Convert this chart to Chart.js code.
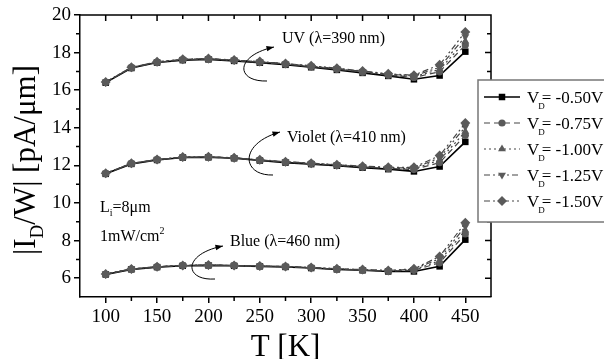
<!DOCTYPE html>
<html>
<head>
<meta charset="utf-8">
<script src="https://cdn.jsdelivr.net/npm/chart.js@4.4.0/dist/chart.umd.min.js"></script>
<style>
  html, body { margin: 0; padding: 0; background: #fff; }
</style>
</head>
<body>
<canvas id="photoChart" width="604" height="359"></canvas>
<script>
// temperatures (K) and tick values
const temps = [100, 125, 150, 175, 200, 225, 250, 275, 300, 325, 350, 375, 400, 425, 450];
const xTicks = [100, 150, 200, 250, 300, 350, 400, 450];
const yTicks = [6, 8, 10, 12, 14, 16, 18, 20];
const voltages = ['-0.50V', '-0.75V', '-1.00V', '-1.25V', '-1.50V'];

// |I_D/W| in pA/um, one row per drain voltage
const uvCurrent = [
  [16.40, 17.18, 17.47, 17.60, 17.64, 17.56, 17.46, 17.35, 17.22, 17.08, 16.92, 16.76, 16.58, 16.78, 18.05],
  [16.42, 17.20, 17.48, 17.62, 17.66, 17.58, 17.48, 17.38, 17.25, 17.12, 16.96, 16.80, 16.68, 16.98, 18.40],
  [16.42, 17.20, 17.49, 17.63, 17.66, 17.59, 17.50, 17.40, 17.27, 17.14, 16.98, 16.83, 16.72, 17.10, 18.60],
  [16.43, 17.21, 17.50, 17.64, 17.67, 17.60, 17.51, 17.41, 17.28, 17.15, 17.00, 16.85, 16.76, 17.22, 18.85],
  [16.44, 17.22, 17.51, 17.65, 17.68, 17.61, 17.52, 17.42, 17.30, 17.17, 17.02, 16.87, 16.80, 17.35, 19.10]
];
const violetCurrent = [
  [11.55, 12.08, 12.29, 12.42, 12.43, 12.38, 12.26, 12.15, 12.07, 11.98, 11.88, 11.80, 11.68, 11.94, 13.25],
  [11.56, 12.09, 12.30, 12.43, 12.44, 12.39, 12.27, 12.17, 12.09, 12.00, 11.91, 11.84, 11.78, 12.15, 13.60],
  [11.57, 12.10, 12.31, 12.44, 12.45, 12.40, 12.28, 12.18, 12.10, 12.02, 11.93, 11.86, 11.82, 12.28, 13.80],
  [11.57, 12.10, 12.31, 12.44, 12.45, 12.40, 12.29, 12.19, 12.11, 12.03, 11.94, 11.88, 11.86, 12.40, 14.05],
  [11.58, 12.11, 12.32, 12.45, 12.46, 12.41, 12.30, 12.20, 12.12, 12.04, 11.96, 11.90, 11.90, 12.52, 14.25]
];
const blueCurrent = [
  [6.20, 6.47, 6.59, 6.66, 6.68, 6.66, 6.63, 6.60, 6.54, 6.47, 6.42, 6.36, 6.36, 6.63, 8.05],
  [6.21, 6.48, 6.60, 6.67, 6.69, 6.67, 6.64, 6.61, 6.55, 6.48, 6.43, 6.38, 6.42, 6.82, 8.35],
  [6.21, 6.48, 6.60, 6.67, 6.69, 6.67, 6.64, 6.61, 6.56, 6.49, 6.44, 6.39, 6.45, 6.92, 8.55],
  [6.22, 6.49, 6.61, 6.68, 6.70, 6.68, 6.65, 6.62, 6.56, 6.50, 6.45, 6.40, 6.48, 7.04, 8.75],
  [6.22, 6.49, 6.61, 6.68, 6.70, 6.68, 6.65, 6.62, 6.57, 6.50, 6.46, 6.41, 6.50, 7.16, 8.95]
];

const SERIF = '"Liberation Serif", "DejaVu Serif", serif';
const GRAY = '#5a5a5a';

const styles = [
  { color: '#000', line: '#000', dash: [], point: 'rect', rot: 0, r: 4.6 },
  { color: GRAY, line: '#444', dash: [6, 4], point: 'circle', rot: 0, r: 3.6 },
  { color: GRAY, line: '#444', dash: [2, 3], point: 'triangle', rot: 0, r: 4.6 },
  { color: GRAY, line: '#444', dash: [6, 3, 2, 3], point: 'triangle', rot: 180, r: 4.6 },
  { color: GRAY, line: '#444', dash: [6, 3, 2, 3, 2, 3], point: 'rectRot', rot: 0, r: 5 }
];

const datasets = [];
[uvCurrent, violetCurrent, blueCurrent].forEach(group => {
  group.forEach((vals, i) => {
    const s = styles[i];
    datasets.push({
      label: voltages[i],
      data: temps.map((t, k) => ({ x: t, y: vals[k] })),
      borderColor: s.line,
      borderWidth: i === 0 ? 1.6 : 1.2,
      borderDash: s.dash,
      pointStyle: s.point,
      pointRotation: s.rot,
      pointRadius: s.r,
      pointBackgroundColor: s.color,
      pointBorderColor: s.color,
      pointBorderWidth: 0,
      tension: 0,
      order: 10 - i
    });
  });
});

function richText(ctx, parts, x, y) {
  let cx = x;
  parts.forEach(p => {
    ctx.font = p.size + 'px ' + SERIF;
    ctx.fillText(p.t, cx, y + (p.dy || 0));
    cx += ctx.measureText(p.t).width + (p.dx || 0);
  });
}

function richWidth(ctx, parts) {
  let w = 0;
  parts.forEach(p => {
    ctx.font = p.size + 'px ' + SERIF;
    w += ctx.measureText(p.t).width + (p.dx || 0);
  });
  return w;
}

function arrow(ctx, pts) {
  ctx.beginPath();
  ctx.moveTo(pts[0], pts[1]);
  ctx.bezierCurveTo(pts[2], pts[3], pts[4], pts[5], pts[6], pts[7]);
  ctx.stroke();
  const ang = Math.atan2(pts[7] - pts[5], pts[6] - pts[4]);
  ctx.beginPath();
  ctx.moveTo(pts[6], pts[7]);
  ctx.lineTo(pts[6] - 8 * Math.cos(ang - 0.35), pts[7] - 8 * Math.sin(ang - 0.35));
  ctx.lineTo(pts[6] - 8 * Math.cos(ang + 0.35), pts[7] - 8 * Math.sin(ang + 0.35));
  ctx.closePath();
  ctx.fill();
}

const decor = {
  id: 'decor',
  afterDraw(chart) {
    const { ctx, chartArea: a, scales: { x, y } } = chart;
    ctx.save();
    ctx.strokeStyle = '#000';
    ctx.fillStyle = '#000';
    ctx.lineWidth = 1.5;

    // top and right frame with inward ticks, minor ticks outside
    ctx.beginPath();
    ctx.moveTo(a.left, a.top);
    ctx.lineTo(a.right, a.top);
    ctx.lineTo(a.right, a.bottom);
    for (let v = 100; v <= 450; v += 25) {
      const px = x.getPixelForValue(v);
      const major = v % 50 === 0;
      ctx.moveTo(px, a.top);
      ctx.lineTo(px, a.top + (major ? 6 : 4));
      if (!major) {
        ctx.moveTo(px, a.bottom);
        ctx.lineTo(px, a.bottom + 4);
      }
    }
    for (let v = 6; v < 20; v += 1) {
      const py = y.getPixelForValue(v);
      const major = v % 2 === 0;
      ctx.moveTo(a.right, py);
      ctx.lineTo(a.right - (major ? 6 : 4), py);
      if (!major) {
        ctx.moveTo(a.left, py);
        ctx.lineTo(a.left - 4, py);
      }
    }
    ctx.stroke();

    // axis titles
    ctx.textBaseline = 'alphabetic';
    ctx.font = '31px ' + SERIF;
    ctx.textAlign = 'center';
    ctx.fillText('T [K]', (a.left + a.right) / 2, 356);
    ctx.textAlign = 'left';

    const yParts = [
      { t: '|I', size: 31 },
      { t: 'D', size: 19, dy: 8 },
      { t: '/W| [pA/\u03bcm]', size: 31 }
    ];
    ctx.save();
    ctx.translate(35, 160);
    ctx.rotate(-Math.PI / 2);
    richText(ctx, yParts, -richWidth(ctx, yParts) / 2, 0);
    ctx.restore();

    // annotations
    ctx.font = '16px ' + SERIF;
    ctx.fillText('UV (\u03bb=390 nm)', 282, 43);
    ctx.fillText('Violet (\u03bb=410 nm)', 287, 142);
    ctx.fillText('Blue (\u03bb=460 nm)', 230, 246);
    richText(ctx, [{ t: 'L', size: 16 }, { t: 'i', size: 10, dy: 4 }, { t: '=8\u03bcm', size: 16 }], 100, 212);
    richText(ctx, [{ t: '1mW/cm', size: 16 }, { t: '2', size: 10, dy: -7 }], 100, 241);

    ctx.lineWidth = 1;
    arrow(ctx, [267, 81, 236, 82, 234, 56, 274, 47]);
    arrow(ctx, [273, 175, 242, 176, 238, 144, 280, 132]);
    arrow(ctx, [215, 279, 184, 281, 182, 254, 223, 246]);

    // legend box
    ctx.fillStyle = '#fff';
    ctx.fillRect(478, 80, 130, 142);
    ctx.strokeStyle = '#777';
    ctx.lineWidth = 1.5;
    ctx.strokeRect(478, 80, 140, 142);
    voltages.forEach((lab, i) => {
      const s = styles[i];
      const ry = 97 + 26 * i;
      ctx.strokeStyle = s.line;
      ctx.lineWidth = i === 0 ? 1.6 : 1.2;
      ctx.setLineDash(s.dash);
      ctx.beginPath();
      ctx.moveTo(484, ry);
      ctx.lineTo(520, ry);
      ctx.stroke();
      ctx.setLineDash([]);
      ctx.fillStyle = s.color;
      ctx.strokeStyle = s.color;
      Chart.helpers.drawPoint(ctx, { pointStyle: s.point, rotation: s.rot, radius: s.r, borderWidth: 0 }, 502, ry);
      ctx.fillStyle = '#000';
      richText(ctx, [
        { t: 'V', size: 17, dx: -1 },
        { t: 'D', size: 9, dy: 6, dx: -3 },
        { t: '= ' + lab, size: 17 }
      ], 527, ry + 6);
    });
    ctx.restore();
  }
};

const tickFont = { family: SERIF, size: 19 };

new Chart(document.getElementById('photoChart'), {
  type: 'line',
  data: { datasets },
  options: {
    responsive: false,
    animation: false,
    devicePixelRatio: 1,
    layout: { padding: { top: 15, right: 113, left: 0, bottom: 0 } },
    plugins: { legend: { display: false }, tooltip: { enabled: false } },
    scales: {
      x: {
        type: 'linear',
        min: 75,
        max: 475,
        afterBuildTicks: s => { s.ticks = xTicks.map(v => ({ value: v })); },
        afterFit: s => { s.height = 62; },
        ticks: { font: tickFont, color: '#000', padding: 3, maxRotation: 0 },
        grid: { display: true, drawOnChartArea: false, drawTicks: true, tickLength: 6, color: '#000', lineWidth: 1.5 },
        border: { display: true, color: '#000', width: 1.5 }
      },
      y: {
        min: 5,
        max: 20,
        afterBuildTicks: s => { s.ticks = yTicks.map(v => ({ value: v })); },
        afterFit: s => { s.width = 80; },
        ticks: { font: tickFont, color: '#000', padding: 3 },
        grid: { display: true, drawOnChartArea: false, drawTicks: true, tickLength: 6, color: '#000', lineWidth: 1.5 },
        border: { display: true, color: '#000', width: 1.5 }
      }
    }
  },
  plugins: [decor]
});
</script>
</body>
</html>
